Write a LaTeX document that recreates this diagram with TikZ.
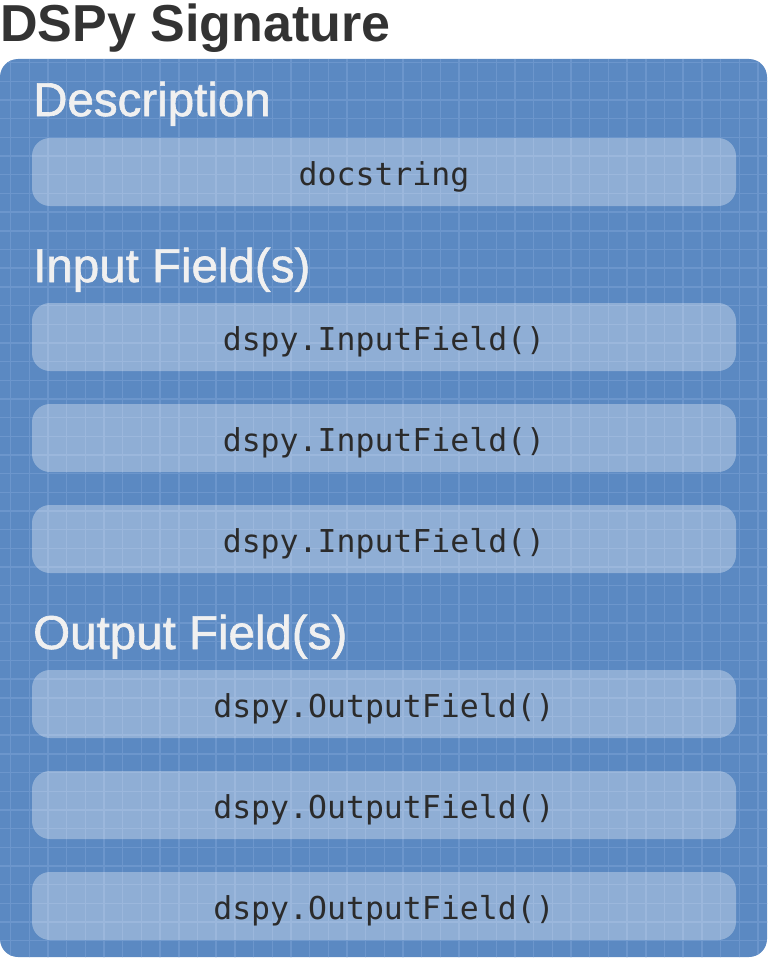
\documentclass[tikz,border=0pt]{standalone}
\usepackage{fontspec}
\setmainfont{Liberation Sans}
\setmonofont{DejaVu Sans Mono}
\newfontfamily\headfont[FakeBold=1.3]{Liberation Sans}
\definecolor{panelblue}{RGB}{91,137,194}
\definecolor{gridblue}{RGB}{108,150,204}
\definecolor{headwhite}{RGB}{240,240,240}
\definecolor{titlegray}{RGB}{51,51,51}
\definecolor{codegray}{RGB}{43,43,43}
\tikzset{
  fieldbox/.style={fill=white, fill opacity=0.32, text opacity=1, rounded corners=18pt,
    minimum width=704pt, minimum height=68pt, inner sep=0pt, text height=26pt, text depth=0pt,
    text=codegray, font=\fontsize{31.5}{34}\selectfont\ttfamily},
  heading/.style={anchor=base west, inner sep=0pt, text=headwhite, font=\fontsize{47.5}{52}\headfont},
  gridline/.style={gridblue, line width=1.4pt}
}

\begin{document}
\begin{tikzpicture}[x=1pt, y=-1pt]
\useasboundingbox (0,0) rectangle (768,958);
\node[anchor=base west, inner sep=0pt, text=titlegray, font=\fontsize{52}{56}\selectfont\bfseries] (title) at (0,42) {DSPy Signature};
\fill[panelblue, rounded corners=18pt] (0,59) rectangle (767,957);
\begin{scope}
\clip[rounded corners=18pt] (0,59) rectangle (767,957);
\foreach \i in {0,...,41} \draw[gridline] ({10.7+\i*18.68},59) -- ++(0,900);
\foreach \k in {0,...,48} \draw[gridline] (0,{62.7+\k*18.68}) -- ++(768,0);
\end{scope}
\node[heading] (desc) at (33,116) {Description};
\node[fieldbox] (doc) at (384,172) {docstring};
\node[heading] (inputs) at (33,282) {Input Field(s)};
\node[fieldbox] (in1) at (384,337) {dspy.InputField()};
\node[fieldbox] (in2) at (384,438) {dspy.InputField()};
\node[fieldbox] (in3) at (384,539) {dspy.InputField()};
\node[heading] (outputs) at (33,649) {Output Field(s)};
\node[fieldbox] (out1) at (384,704) {dspy.OutputField()};
\node[fieldbox] (out2) at (384,805) {dspy.OutputField()};
\node[fieldbox] (out3) at (384,906) {dspy.OutputField()};
\end{tikzpicture}
\end{document}
